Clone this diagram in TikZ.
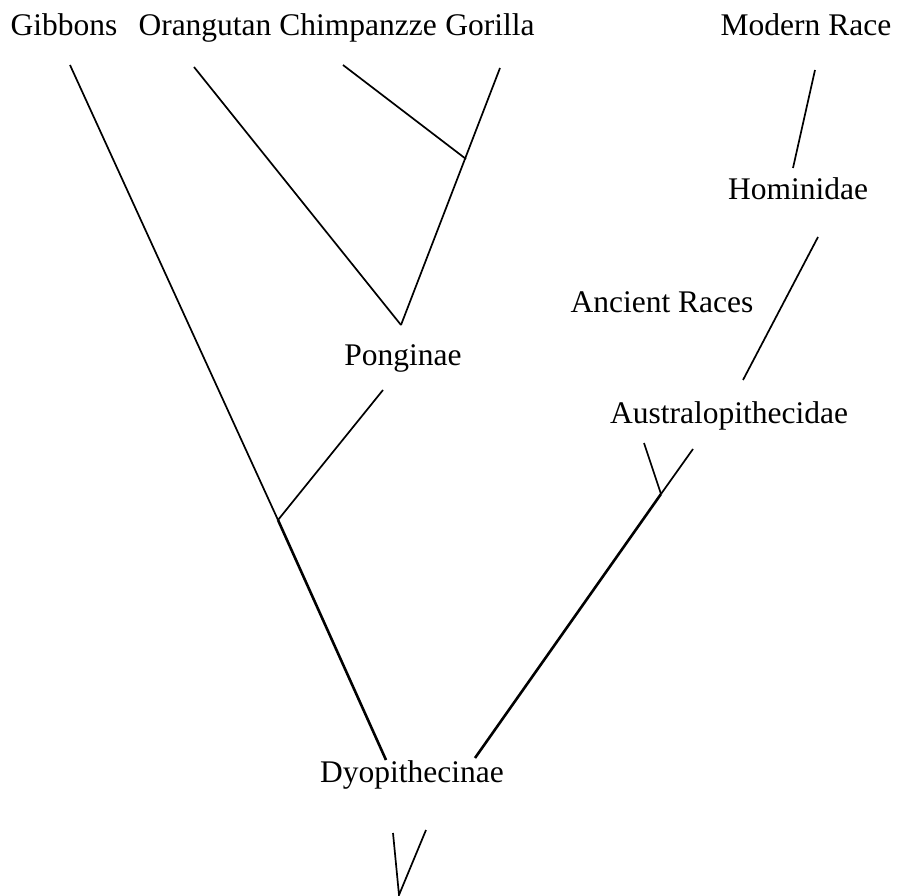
\documentclass[tikz,border=0pt]{standalone}
\usepackage{fontspec}
\setmainfont{Liberation Serif}
\usetikzlibrary{positioning}

\begin{document}
\begin{tikzpicture}[
    x=1pt,y=-1pt,
    taxon/.style={anchor=base, inner sep=0pt, font=\fontsize{31.5}{36}\selectfont},
    branch/.style={line width=1.7pt},
    stem/.style={line width=2.6pt}
]
    \useasboundingbox (0,0) rectangle (898,896);

    % labels
    \node[taxon] (gibbons)    at (64,36)   {Gibbons};
    \node[taxon] (orangutan)  at (205,36)  {Orangutan};
    \node[taxon] (chimp)      at (358,36)  {Chimpanzze};
    \node[taxon] (gorilla)    at (490,36)  {Gorilla};
    \node[taxon] (modern)     at (806,36)  {Modern Race};
    \node[taxon] (hominidae)  at (798,200) {Hominidae};
    \node[taxon] (ancient)    at (662,313) {Ancient Races};
    \node[taxon] (ponginae)   at (403,366) {Ponginae};
    \node[taxon] (australo)   at (729,423) {Australopithecidae};
    \node[taxon] (dyo)        at (412,782) {Dyopithecinae};

    % branch ends and junctions
    \coordinate (gib-end)   at (70,65);
    \coordinate (ora-end)   at (194,67);
    \coordinate (chi-end)   at (343,65);
    \coordinate (gor-end)   at (500,68);
    \coordinate (mod-end)   at (815,70);
    \coordinate (hom-top)   at (793,168);
    \coordinate (hom-bot)   at (818,237);
    \coordinate (aus-top)   at (743,380);
    \coordinate (aus-l)     at (644,443);
    \coordinate (aus-r)     at (693,449);
    \coordinate (aus-join)  at (661,494);
    \coordinate (afr-join)  at (466,159);
    \coordinate (pon-top)   at (401,325);
    \coordinate (pon-bot)   at (383,390);
    \coordinate (gib-join)  at (278,520);
    \coordinate (dyo-l)     at (386,760);
    \coordinate (dyo-r)     at (475,758);
    \coordinate (root-l)    at (393,833);
    \coordinate (root-r)    at (426,830);
    \coordinate (root)      at (399,895);

    \draw[branch] (gib-end) -- (gib-join);
    \draw[stem]   (gib-join) -- (dyo-l);
    \draw[branch] (pon-bot) -- (gib-join);
    \draw[branch] (ora-end) -- (pon-top);
    \draw[branch] (gor-end) -- (pon-top);
    \draw[branch] (chi-end) -- (afr-join);
    \draw[branch] (mod-end) -- (hom-top);
    \draw[branch] (hom-bot) -- (aus-top);
    \draw[branch] (aus-l) -- (aus-join);
    \draw[branch] (aus-r) -- (aus-join);
    \draw[stem]   (aus-join) -- (dyo-r);
    \draw[branch] (root-l) -- (root) -- (root-r);
\end{tikzpicture}
\end{document}
